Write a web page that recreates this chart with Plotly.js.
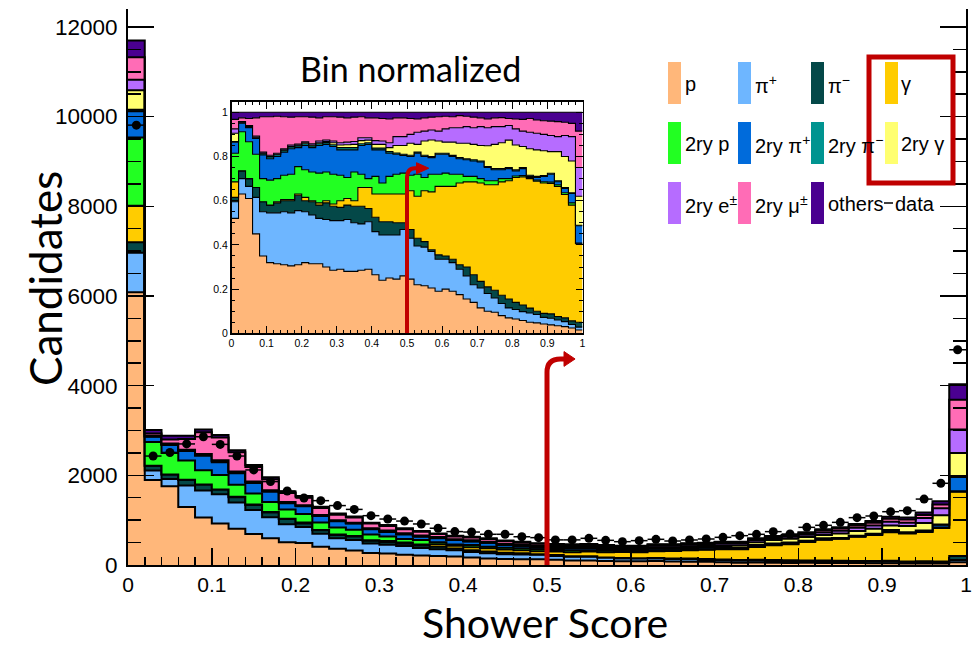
<!DOCTYPE html>
<html><head><meta charset="utf-8">
<script src="https://cdn.plot.ly/plotly-3.0.1.min.js"></script>
<style>html,body{margin:0;padding:0;background:#fff}#chart{width:973px;height:648px}</style>
</head><body><div id="chart"></div>
<script>
// ---------------- data ----------------
const nBins = 50;
const binWidth = 0.02;

// total simulated candidates per bin (top of the stack)
const totalMC = [11700,3010,2880,2880,3020,2900,2560,2230,1955,1640,
  1540,1300,1150,1080,945,890,820,760,705,650,
  630,595,545,520,485,470,460,468,445,432,
  430,460,460,483,498,520,520,595,647,670,
  730,795,840,915,980,1075,1060,1170,1420,4030];

// data points
const dataCounts = [9810,2430,2510,2700,2860,2690,2430,2120,1860,1650,
  1495,1435,1325,1240,1100,1025,980,915,820,745,
  735,685,685,630,610,560,560,595,550,520,
  543,573,535,558,580,617,654,684,744,691,
  840,885,951,1056,1093,1189,1212,1470,1822,4800];

// bin-normalized cumulative fractions (top edge of each stacked layer)
const cumP = [0.52,0.63,0.61,0.45,0.35,0.32,0.315,0.31,0.305,0.31,
  0.32,0.315,0.315,0.30,0.285,0.29,0.28,0.28,0.285,0.29,
  0.265,0.24,0.25,0.245,0.26,0.245,0.22,0.215,0.205,0.19,
  0.20,0.19,0.175,0.155,0.14,0.115,0.10,0.095,0.08,0.07,
  0.065,0.058,0.05,0.047,0.042,0.038,0.034,0.03,0.024,0.015];
const cumPip = [0.595,0.70,0.665,0.615,0.55,0.545,0.545,0.55,0.545,0.555,
  0.55,0.535,0.52,0.515,0.51,0.51,0.515,0.50,0.495,0.505,
  0.46,0.445,0.445,0.445,0.47,0.43,0.395,0.39,0.37,0.335,
  0.335,0.32,0.29,0.26,0.22,0.205,0.18,0.16,0.135,0.115,
  0.108,0.098,0.092,0.085,0.072,0.068,0.06,0.053,0.04,0.028];
const cumPim = [0.615,0.735,0.70,0.66,0.595,0.58,0.59,0.60,0.60,0.625,
  0.60,0.595,0.58,0.59,0.575,0.57,0.58,0.575,0.575,0.565,
  0.525,0.505,0.505,0.50,0.50,0.47,0.43,0.415,0.378,0.355,
  0.35,0.335,0.31,0.30,0.265,0.235,0.21,0.195,0.172,0.155,
  0.14,0.128,0.114,0.10,0.09,0.088,0.076,0.07,0.056,0.05];
const cumG = [0.685,0.735,0.70,0.66,0.595,0.58,0.595,0.605,0.605,0.63,
  0.615,0.60,0.59,0.60,0.585,0.60,0.61,0.60,0.66,0.66,
  0.63,0.63,0.63,0.63,0.63,0.645,0.62,0.645,0.64,0.665,
  0.665,0.665,0.68,0.685,0.685,0.68,0.672,0.672,0.685,0.69,
  0.705,0.708,0.70,0.688,0.68,0.678,0.665,0.628,0.58,0.405];
const cum2p = [0.815,0.912,0.867,0.81,0.70,0.693,0.70,0.715,0.72,0.754,
  0.74,0.73,0.725,0.73,0.72,0.715,0.705,0.73,0.72,0.70,
  0.71,0.68,0.71,0.72,0.725,0.715,0.72,0.705,0.72,0.72,
  0.725,0.72,0.72,0.71,0.71,0.70,0.69,0.69,0.70,0.70,
  0.712,0.714,0.705,0.693,0.686,0.684,0.672,0.636,0.59,0.408];
const cum2pip = [0.865,0.951,0.93,0.882,0.807,0.79,0.80,0.82,0.835,0.84,
  0.85,0.84,0.85,0.855,0.845,0.83,0.83,0.83,0.85,0.855,
  0.83,0.83,0.815,0.81,0.805,0.80,0.815,0.80,0.795,0.81,
  0.81,0.80,0.79,0.785,0.78,0.775,0.75,0.74,0.74,0.745,
  0.735,0.745,0.71,0.705,0.71,0.72,0.686,0.656,0.633,0.487];
const cum2pim = [0.868,0.953,0.932,0.885,0.812,0.798,0.808,0.828,0.843,0.848,
  0.858,0.848,0.858,0.863,0.853,0.84,0.84,0.84,0.858,0.862,
  0.838,0.838,0.822,0.816,0.81,0.806,0.82,0.806,0.80,0.815,
  0.815,0.805,0.795,0.79,0.785,0.78,0.755,0.745,0.745,0.75,
  0.74,0.75,0.715,0.71,0.714,0.724,0.69,0.66,0.636,0.489];
const cum2g = [0.905,0.955,0.935,0.887,0.815,0.80,0.81,0.83,0.846,0.851,
  0.862,0.852,0.862,0.868,0.862,0.852,0.853,0.855,0.872,0.874,
  0.855,0.855,0.84,0.85,0.85,0.86,0.855,0.87,0.875,0.87,
  0.865,0.865,0.86,0.86,0.855,0.85,0.849,0.855,0.862,0.874,
  0.852,0.845,0.835,0.83,0.826,0.822,0.822,0.80,0.78,0.62];
const cum2e = [0.925,0.958,0.94,0.892,0.82,0.806,0.815,0.835,0.852,0.856,
  0.867,0.858,0.87,0.875,0.87,0.862,0.865,0.868,0.885,0.885,
  0.872,0.87,0.862,0.89,0.89,0.90,0.91,0.915,0.92,0.915,
  0.925,0.93,0.93,0.935,0.93,0.935,0.93,0.935,0.935,0.94,
  0.925,0.915,0.91,0.905,0.90,0.895,0.89,0.895,0.89,0.75];
const cum2mu = [0.968,0.975,0.972,0.975,0.98,0.98,0.982,0.98,0.978,0.98,
  0.98,0.978,0.975,0.98,0.98,0.978,0.975,0.978,0.98,0.975,
  0.975,0.972,0.97,0.975,0.975,0.972,0.97,0.975,0.978,0.98,
  0.982,0.98,0.985,0.982,0.978,0.975,0.97,0.975,0.976,0.972,
  0.97,0.968,0.972,0.965,0.962,0.96,0.958,0.955,0.95,0.915];

const layerNames = ['p','π+','π−','γ','2ry p','2ry π+','2ry π−','2ry γ','2ry e±','2ry μ±','others'];
const layerColors = ['#FFB77A','#6EB6FF','#044848','#FFCC00','#22FF22','#006BDB',
  '#009490','#FFFF70','#B66CFF','#FF6CB6','#4A0090'];
const legendLabels = ['p','π<sup>+</sup>','π<sup>−</sup>','γ',
  '2ry p','2ry π<sup>+</sup>','2ry π<sup>−</sup>','2ry γ',
  '2ry e<sup>±</sup>','2ry μ<sup>±</sup>','others','data'];

// ---------------- build ----------------
const cumLayers = [cumP,cumPip,cumPim,cumG,cum2p,cum2pip,cum2pim,cum2g,cum2e,cum2mu,null];
const edges = Array.from({length:nBins+1},(_,i)=>+(i*binWidth).toFixed(4));
const centers = Array.from({length:nBins},(_,i)=>+((i+0.5)*binWidth).toFixed(4));
const stepY = v => v.concat([v[v.length-1]]);
const fracOf = (k,i) => cumLayers[k] ? cumLayers[k][i] : 1;

const traces = [];
// main stacked histogram
for (let k=0;k<layerNames.length;k++){
  traces.push({x:edges, y:stepY(totalMC.map((t,i)=>t*fracOf(k,i))), xaxis:'x', yaxis:'y',
    type:'scatter', mode:'lines', line:{shape:'hv',color:'#000',width:2},
    fill:k===0?'tozeroy':'tonexty', fillcolor:layerColors[k], name:layerNames[k],
    hoverinfo:'skip', showlegend:false});
}
// data
traces.push({x:centers, y:dataCounts, xaxis:'x', yaxis:'y', type:'scatter', mode:'markers',
  marker:{color:'#000',size:9}, error_x:{type:'constant',value:binWidth/2,width:0,thickness:1.5,color:'#000'},
  name:'data', showlegend:false});
// inset (bin normalized)
for (let k=0;k<layerNames.length;k++){
  traces.push({x:edges, y:stepY(totalMC.map((t,i)=>fracOf(k,i))), xaxis:'x2', yaxis:'y2',
    type:'scatter', mode:'lines', line:{shape:'hv',color:'#000',width:1.1},
    fill:k===0?'tozeroy':'tonexty', fillcolor:layerColors[k], name:layerNames[k],
    hoverinfo:'skip', showlegend:false});
}

// pixel -> paper helpers (plot area: x 128..966, y 9..565)
const PL=128, PR=966, PT=9, PB=565;
const px = v => (v-PL)/(PR-PL);
const py = v => (PB-v)/(PB-PT);

const annotations = [];
const shapes = [];
const sans = 'Liberation Sans, Arial, Helvetica, sans-serif';

// legend
const rowY = [83,143,203];
const boxX = [668,738,811,885];
const labX = [683,753,826,899];
for (let r=0;r<3;r++){
  for (let c=0;c<4;c++){
    const idx = r*4+c;
    const isData = idx===11;
    annotations.push({xref:'paper',yref:'paper',x:px(isData?893:labX[c]),y:py(rowY[r]+1),
      xanchor:'left',yanchor:'middle',showarrow:false,text:legendLabels[idx],
      font:{family:sans,size:20,color:'#000'}});
    if (!isData){
      shapes.push({type:'rect',xref:'paper',yref:'paper',x0:px(boxX[c]),x1:px(boxX[c]+13),
        y0:py(rowY[r]+21),y1:py(rowY[r]-21),fillcolor:layerColors[idx],line:{width:0}});
    }
  }
}
// data legend symbol
shapes.push({type:'line',xref:'paper',yref:'paper',x0:px(884),x1:px(893),y0:py(203),y1:py(203),
  line:{color:'#000',width:1.5}});
// red box
shapes.push({type:'rect',xref:'paper',yref:'paper',x0:px(869),x1:px(953),y0:py(57),y1:py(183),
  line:{color:'#C00000',width:5}});

// main red arrow (data coordinates)
shapes.push({type:'path',xref:'x',yref:'y',
  path:'M 0.5,0 L 0.5,4300 Q 0.5,4595 0.516,4595 L 0.522,4595',
  line:{color:'#C00000',width:5}});
shapes.push({type:'path',xref:'x',yref:'y',
  path:'M 0.5203,4760 L 0.5335,4595 L 0.5203,4430 Z',
  fillcolor:'#C00000',line:{color:'#C00000',width:1}});
// inset red arrow
shapes.push({type:'path',xref:'x2',yref:'y2',
  path:'M 0.5,0 L 0.5,0.70 Q 0.5,0.747 0.522,0.747 L 0.528,0.747',
  line:{color:'#C00000',width:4}});
shapes.push({type:'path',xref:'x2',yref:'y2',
  path:'M 0.527,0.772 L 0.562,0.747 L 0.527,0.722 Z',
  fillcolor:'#C00000',line:{color:'#C00000',width:1}});

// titles
annotations.push({xref:'paper',yref:'paper',x:px(545),y:py(622),xanchor:'center',yanchor:'middle',
  showarrow:false,text:'Shower Score',font:{family:'Lato, Open Sans, sans-serif',size:41,color:'#000'}});
annotations.push({xref:'paper',yref:'paper',x:px(45),y:py(279),xanchor:'center',yanchor:'middle',
  showarrow:false,textangle:-90,text:'Candidates',font:{family:'Lato, Open Sans, sans-serif',size:44,color:'#000'}});
annotations.push({xref:'paper',yref:'paper',x:px(410),y:py(68),xanchor:'center',yanchor:'middle',
  showarrow:false,text:'Bin normalized',font:{family:'Lato, Open Sans, sans-serif',size:34,color:'#000'}});

const layout = {
  width:973, height:648,
  margin:{l:PL,r:973-PR,t:PT,b:648-PB},
  paper_bgcolor:'#fff', plot_bgcolor:'rgba(0,0,0,0)',
  showlegend:false,
  xaxis:{domain:[0,1],range:[0,1],dtick:0.1,tick0:0,ticks:'inside',ticklen:17,tickwidth:1.5,tickcolor:'#000',
    minor:{dtick:0.02,tick0:0,ticks:'inside',ticklen:8,tickwidth:1.5,tickcolor:'#000'},
    showline:true,linecolor:'#000',linewidth:2,mirror:false,showgrid:false,zeroline:false,
    tickfont:{family:sans,size:21,color:'#000'}},
  yaxis:{domain:[0,1],range:[0,12400],dtick:2000,tick0:0,tickformat:'d',ticks:'inside',ticklen:26,tickwidth:1.5,tickcolor:'#000',
    minor:{dtick:500,tick0:0,ticks:'inside',ticklen:13,tickwidth:1.5,tickcolor:'#000'},
    showline:true,linecolor:'#000',linewidth:2,mirror:'ticks',showgrid:false,zeroline:false,
    tickfont:{family:sans,size:22.5,color:'#000'},ticklabelstandoff:4},
  xaxis2:{domain:[px(231.5),px(582.5)],anchor:'y2',range:[0,1],dtick:0.1,tick0:0,ticks:'inside',ticklen:7,
    tickwidth:1,tickcolor:'#000',minor:{dtick:0.02,tick0:0,ticks:'inside',ticklen:3.5,tickwidth:1,tickcolor:'#000'},
    showline:true,linecolor:'#000',linewidth:1.5,mirror:'ticks',showgrid:false,zeroline:false,
    tickfont:{family:sans,size:10.5,color:'#000'}},
  yaxis2:{domain:[py(333.3),py(101.7)],anchor:'x2',range:[0,1.048],dtick:0.2,tick0:0,ticks:'inside',ticklen:7,
    tickwidth:1,tickcolor:'#000',minor:{dtick:0.05,tick0:0,ticks:'inside',ticklen:3.5,tickwidth:1,tickcolor:'#000'},
    showline:true,linecolor:'#000',linewidth:1.5,mirror:'ticks',showgrid:false,zeroline:false,
    tickfont:{family:sans,size:10.5,color:'#000'}},
  annotations:annotations,
  shapes:shapes
};

Plotly.newPlot('chart', traces, layout, {displayModeBar:false, staticPlot:true});
</script>
</body></html>
